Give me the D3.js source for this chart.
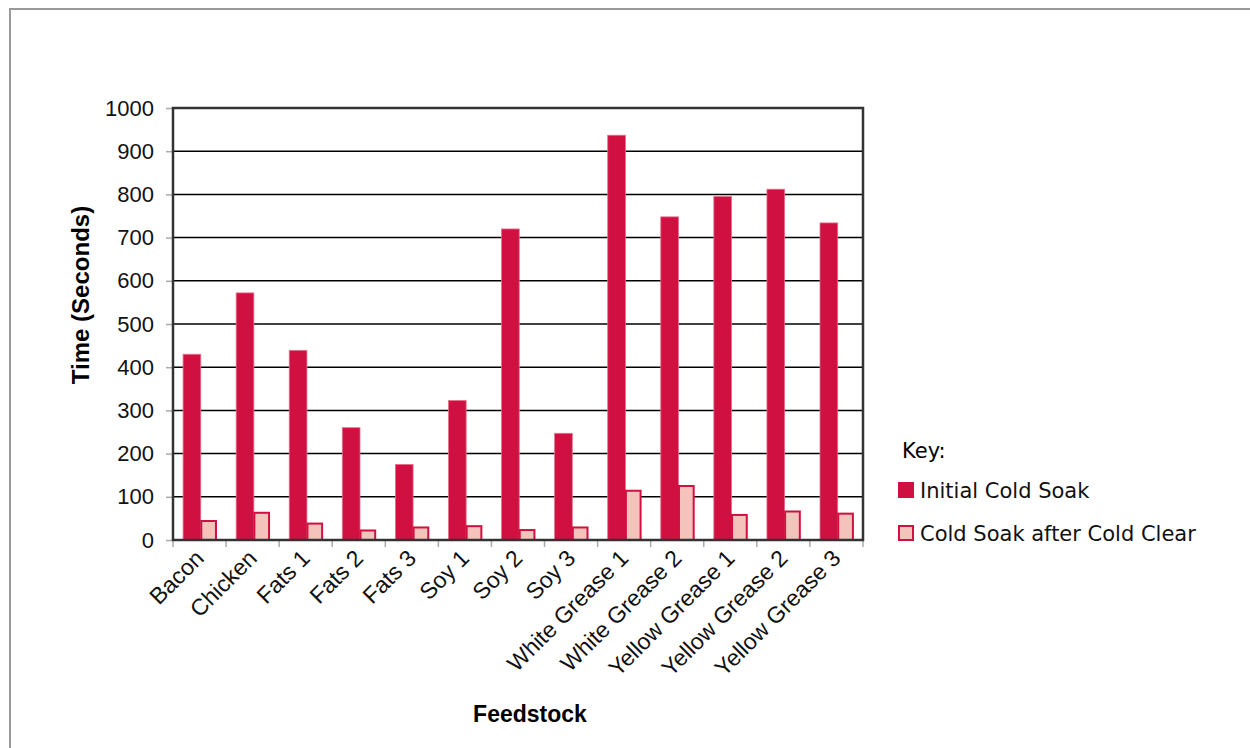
<!DOCTYPE html>
<html>
<head>
<meta charset="utf-8">
<script src="https://cdn.jsdelivr.net/npm/d3@7"></script>
<style>
  body { margin: 0; background: #fff; }
  svg { display: block; }
</style>
</head>
<body>
<div id="chart"></div>
<script>
'use strict';

var feedstocks = ['Bacon', 'Chicken', 'Fats 1', 'Fats 2', 'Fats 3', 'Soy 1', 'Soy 2', 'Soy 3',
  'White Grease 1', 'White Grease 2', 'Yellow Grease 1', 'Yellow Grease 2', 'Yellow Grease 3'];
var seriesNames = ['Initial Cold Soak', 'Cold Soak after Cold Clear'];
var initialSoak = [430, 572, 439, 260, 175, 323, 720, 247, 937, 748, 795, 812, 734];
var afterClear = [44, 63, 38, 22, 29, 32, 23, 29, 114, 125, 58, 66, 61];
var yTicks = [0, 100, 200, 300, 400, 500, 600, 700, 800, 900, 1000];

var W = 1250, H = 748;
var plotL = 173, plotR = 863, plotT = 108, plotB = 540;

var redColor = '#d01040',
  pinkColor = '#f4c4bc',
  gridColor = '#000',
  frameColor = '#333';
var font = '"Liberation Sans", Arial, sans-serif';

var svg = d3.select('#chart').append('svg')
  .attr('width', W)
  .attr('height', H);

// outer frame
svg.append('rect')
  .attr('x', 10).attr('y', 9)
  .attr('width', W + 20).attr('height', H + 20)
  .style('fill', 'none')
  .style('stroke', '#999')
  .style('stroke-width', 2);

var x = d3.scaleBand().domain(feedstocks).range([plotL, plotR]);
var bw = x.bandwidth();
var x1 = d3.scaleBand().domain(seriesNames).range([bw * 0.19, bw * 0.19 + bw * 2 / 3]);
var y = d3.scaleLinear().domain([0, 1000]).range([plotB, plotT]);

// gridlines
svg.append('g')
  .selectAll('line')
  .data(yTicks.filter(function(d) { return d > 0 && d < 1000; }))
  .join('line')
  .attr('x1', plotL).attr('x2', plotR)
  .attr('y1', function(d) { return y(d); })
  .attr('y2', function(d) { return y(d); })
  .style('stroke', gridColor)
  .style('stroke-width', 1.5);

// y axis ticks + labels
var yAxis = svg.append('g')
  .attr('transform', 'translate(' + plotL + ',0)')
  .call(d3.axisLeft(y).tickValues(yTicks).tickFormat(d3.format('d')).tickSize(7).tickPadding(12));
yAxis.select('.domain').remove();
yAxis.selectAll('.tick line').style('stroke', '#aaa').style('stroke-width', 1.5);
yAxis.selectAll('.tick text')
  .style('font-family', font)
  .style('font-size', '22px')
  .style('fill', '#111');

// x axis ticks at band boundaries
var bounds = feedstocks.map(function(d) { return x(d); }).concat([plotR]);
svg.append('g')
  .selectAll('line')
  .data(bounds)
  .join('line')
  .attr('x1', function(d) { return d; })
  .attr('x2', function(d) { return d; })
  .attr('y1', plotB).attr('y2', plotB + 7)
  .style('stroke', '#aaa')
  .style('stroke-width', 1.5);

// bars
var groups = svg.append('g')
  .selectAll('g')
  .data(feedstocks)
  .join('g')
  .attr('transform', function(d) { return 'translate(' + x(d) + ',0)'; });

groups.append('rect')
  .attr('x', x1(seriesNames[0]))
  .attr('width', x1.bandwidth())
  .attr('y', function(d, i) { return y(initialSoak[i]); })
  .attr('height', function(d, i) { return plotB - y(initialSoak[i]); })
  .style('fill', redColor)
  .style('stroke', '#e6708c')
  .style('stroke-width', 0.8);

groups.append('rect')
  .attr('x', x1(seriesNames[1]) + 0.5)
  .attr('width', x1.bandwidth() - 3)
  .attr('y', function(d, i) { return y(afterClear[i]); })
  .attr('height', function(d, i) { return plotB - y(afterClear[i]); })
  .style('fill', pinkColor)
  .style('stroke', redColor)
  .style('stroke-width', 2);

// plot frame
svg.append('rect')
  .attr('x', plotL).attr('y', plotT)
  .attr('width', plotR - plotL).attr('height', plotB - plotT)
  .style('fill', 'none')
  .style('stroke', frameColor)
  .style('stroke-width', 2.5);

// x labels
svg.append('g')
  .selectAll('text')
  .data(feedstocks)
  .join('text')
  .attr('transform', function(d) {
    return 'translate(' + (x(d) + bw / 2) + ',' + (plotB + 14) + ') rotate(-45)';
  })
  .attr('text-anchor', 'end')
  .attr('dy', '0.35em')
  .style('font-family', font)
  .style('font-size', '23px')
  .style('fill', '#111')
  .text(function(d) { return d; });

// axis titles
svg.append('text')
  .attr('transform', 'translate(89,295) rotate(-90)')
  .attr('text-anchor', 'middle')
  .style('font-family', font)
  .style('font-size', '24px')
  .style('font-weight', 'bold')
  .text('Time (Seconds)');

svg.append('text')
  .attr('x', 530).attr('y', 722)
  .attr('text-anchor', 'middle')
  .style('font-family', font)
  .style('font-size', '23px')
  .style('font-weight', 'bold')
  .text('Feedstock');

// legend
var legend = svg.append('g').attr('transform', 'translate(898,0)');
legend.append('text')
  .attr('x', 4).attr('y', 458)
  .style('font-family', '"DejaVu Sans", sans-serif')
  .style('font-size', '21px')
  .text('Key:');

var legendItems = legend.selectAll('g.item')
  .data(seriesNames)
  .join('g')
  .attr('class', 'item')
  .attr('transform', function(d, i) { return 'translate(0,' + (482 + i * 43) + ')'; });

legendItems.append('rect')
  .attr('x', function(d, i) { return i ? 1 : 0; })
  .attr('y', function(d, i) { return i ? 1 : 0; })
  .attr('width', function(d, i) { return i ? 14 : 16; })
  .attr('height', function(d, i) { return i ? 14 : 16; })
  .style('fill', function(d, i) { return i ? pinkColor : redColor; })
  .style('stroke', function(d, i) { return i ? redColor : 'none'; })
  .style('stroke-width', 2);

legendItems.append('text')
  .attr('x', 22).attr('y', 16)
  .style('font-family', '"DejaVu Sans", sans-serif')
  .style('font-size', '21px')
  .style('fill', '#111')
  .text(function(d) { return d; });
</script>
</body>
</html>
